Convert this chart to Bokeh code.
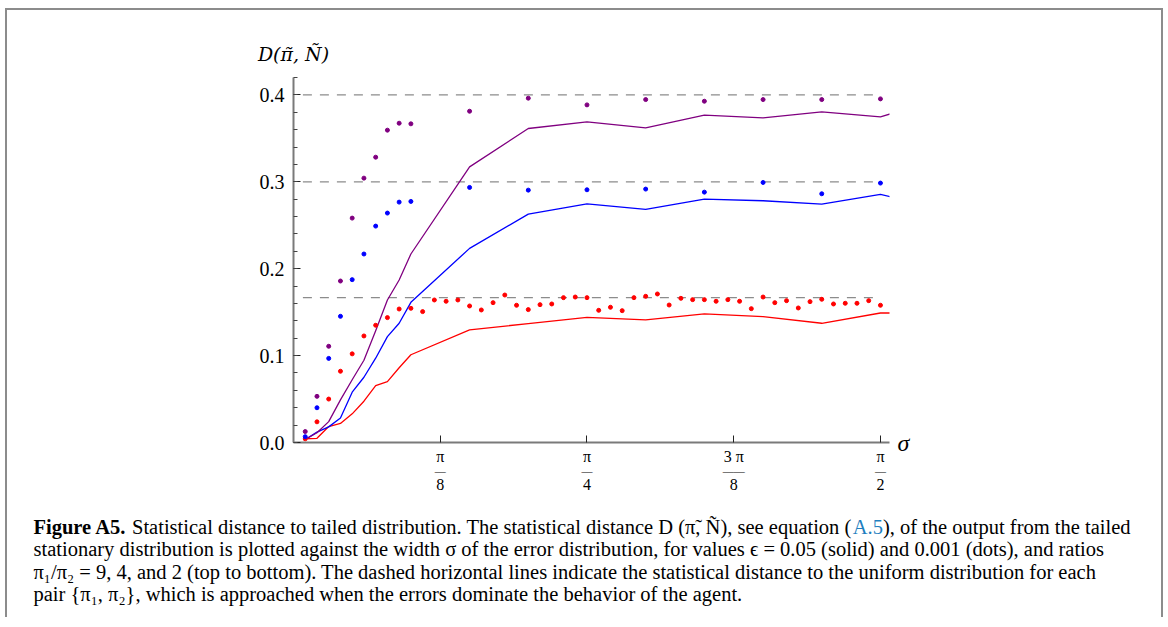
import numpy as np
from bokeh.plotting import figure
from bokeh.layouts import column
from bokeh.models import Range1d, FixedTicker, LinearAxis, PrintfTickFormatter
from bokeh.core.properties import value
from bokeh.embed import file_html
from bokeh.resources import INLINE

# ---------------- data ----------------
# sigma positions in units of pi/100
solid_k = [1, 2, 3, 4, 5, 6, 7, 8, 9, 10, 15, 20, 25, 30, 35, 40, 45, 50, 55]
dots_k = [1, 2, 3, 4, 5, 6, 7, 8, 9, 10, 15, 20, 25, 30, 35, 40, 45, 50]
red_dots_k = [1, 2, 3, 4, 5, 6, 7, 8, 9, 10, 11, 12, 13, 14, 15, 16, 17, 18, 19, 20,
              21, 22, 23, 24, 25, 26, 27, 28, 29, 30, 31, 32, 33, 34, 35, 36, 37, 38, 39, 40,
              41, 42, 43, 44, 45, 46, 47, 48, 49, 50]

# epsilon = 0.05 (solid)
purple_solid = [0.0034, 0.0112, 0.0240, 0.0490, 0.0722, 0.0946, 0.1287, 0.1640, 0.1870, 0.2169,
                0.3172, 0.3613, 0.3690, 0.3621, 0.3766, 0.3736, 0.3805, 0.3747, 0.3950]
blue_solid = [0.0034, 0.0119, 0.0180, 0.0282, 0.0579, 0.0751, 0.0970, 0.1218, 0.1372, 0.1613,
              0.2234, 0.2628, 0.2747, 0.2682, 0.2801, 0.2782, 0.2743, 0.2854, 0.2705]
red_solid = [0.0043, 0.0048, 0.0184, 0.0220, 0.0330, 0.0475, 0.0655, 0.0701, 0.0860, 0.1010,
             0.1297, 0.1368, 0.1440, 0.1410, 0.1479, 0.1448, 0.1372, 0.1490, 0.1490]

# epsilon = 0.001 (dots)
purple_dots = [0.0126, 0.0531, 0.1107, 0.1858, 0.2582, 0.3042, 0.3283, 0.3594, 0.3674, 0.3667,
               0.3812, 0.3962, 0.3885, 0.3946, 0.3927, 0.3946, 0.3946, 0.3954]
blue_dots = [0.0067, 0.0400, 0.0968, 0.1452, 0.1874, 0.2169, 0.2490, 0.2640, 0.2766, 0.2774,
             0.2935, 0.2904, 0.2908, 0.2916, 0.2881, 0.2992, 0.2862, 0.2985]
red_dots = [0.0042, 0.0238, 0.0500, 0.0820, 0.1020, 0.1226, 0.1349, 0.1437, 0.1536, 0.1544,
            0.1506, 0.1640, 0.1625, 0.1640, 0.1571, 0.1525, 0.1609, 0.1697, 0.1579, 0.1529,
            0.1586, 0.1594, 0.1667, 0.1674, 0.1667, 0.1521, 0.1556, 0.1517, 0.1667, 0.1682,
            0.1709, 0.1582, 0.1659, 0.1644, 0.1644, 0.1625, 0.1644, 0.1625, 0.1540, 0.1674,
            0.1609, 0.1632, 0.1548, 0.1621, 0.1648, 0.1594, 0.1602, 0.1602, 0.1632, 0.1579]

# distance to the uniform distribution (dashed)
uniform_levels = [0.4, 0.3, 0.1667]
uniform_k = [0.8, 50]

# x ticks in units of pi/8
xtick_pos = [1, 2, 3, 4]
xtick_num = ["π", "π", "3 π", "π"]
xtick_bar = ["—", "—", "——", "—"]
xtick_den = ["8", "4", "8", "2"]
ytick_vals = [0.0, 0.1, 0.2, 0.3, 0.4]
ytick_minor_step = 0.02

y_title = "D(π̃, Ñ)"
x_title = "σ"

cap_bold = "Figure A5."
cap_1a = "Statistical distance to tailed distribution. The statistical distance D (π̃, Ñ), see equation ("
cap_1b = "A.5"
cap_1c = "), of the output from the tailed"
caption_lines = [
    "stationary distribution is plotted against the width σ of the error distribution, for values ϵ = 0.05 (solid) and 0.001 (dots), and ratios",
    "π₁/π₂ = 9, 4, and 2 (top to bottom). The dashed horizontal lines indicate the statistical distance to the uniform distribution for each",
    "pair {π₁, π₂}, which is approached when the errors dominate the behavior of the agent.",
]

PURPLE, BLUE, RED = "#800080", "#0000ff", "#ff0000"
SERIF = "Liberation Serif"

def sx(ks):
    # sigma in units of pi/8
    return [k * 8.0 / 100.0 for k in ks]

# ---------------- plot figure ----------------
W = 1154
H1 = 495
ML, MR, MT, FH = 286, 272, 67, 365
MB = H1 - MT - FH
XMAX = 1.595 / (np.pi / 8)
YMAX = 0.42

p = figure(width=W, height=H1, output_backend="svg", toolbar_location=None, title=None,
           x_range=Range1d(0, XMAX), y_range=Range1d(0, YMAX),
           min_border_left=ML, min_border_right=MR, min_border_top=MT, min_border_bottom=MB)
p.frame_align = False
p.grid.visible = False
p.outline_line_color = None
p.background_fill_color = "white"
p.border_fill_color = "white"

for ax in (p.xaxis[0], p.yaxis[0]):
    ax.axis_line_color = "#7a7a7a"
    ax.axis_line_width = 2
    ax.major_tick_line_color = "#222222"
    ax.major_tick_in = 7
    ax.major_tick_out = 0
    ax.minor_tick_line_color = "#444444"
    ax.minor_tick_in = 4
    ax.minor_tick_out = 0

nminor = int(round(YMAX / ytick_minor_step))
p.yaxis.ticker = FixedTicker(ticks=ytick_vals, minor_ticks=[i * ytick_minor_step for i in range(nminor + 1)])
p.yaxis.formatter = PrintfTickFormatter(format="%.1f")
p.yaxis.major_label_text_font = SERIF
p.yaxis.major_label_text_font_size = "20px"
p.yaxis.major_label_text_color = "black"
p.yaxis.major_label_standoff = 9

# x axis: numerators of the pi fractions
p.xaxis.ticker = FixedTicker(ticks=xtick_pos, minor_ticks=[])
p.xaxis.major_label_overrides = {t: s for t, s in zip(xtick_pos, xtick_num)}
p.xaxis.major_label_text_font = SERIF
p.xaxis.major_label_text_font_size = "16px"
p.xaxis.major_label_text_color = "black"
p.xaxis.major_label_standoff = 5

def plain_axis(ticks, labels, size, standoff, style="normal", font=SERIF):
    return LinearAxis(ticker=FixedTicker(ticks=ticks, minor_ticks=[]),
                      major_label_overrides={t: s for t, s in zip(ticks, labels)},
                      axis_line_color=None, major_tick_line_color=None, minor_tick_line_color=None,
                      major_tick_in=0, major_tick_out=0, minor_tick_in=0, minor_tick_out=0,
                      major_label_standoff=standoff, major_label_text_font=font,
                      major_label_text_font_size=size, major_label_text_font_style=style,
                      major_label_text_color="black")

# fraction bars and denominators, stacked under the numerators
p.add_layout(plain_axis(xtick_pos, xtick_bar, "11px", -3), "below")
p.add_layout(plain_axis(xtick_pos, xtick_den, "16px", -1), "below")

# axis titles: y title centred above the y axis, sigma right of the x axis
p.add_layout(plain_axis([0.0], [y_title], "19px", 13, "italic", "DejaVu Serif"), "above")
p.add_layout(plain_axis([0.0], [x_title], "24px", 8, "italic"), "right")

# dashed uniform levels
for lvl in uniform_levels:
    p.line(sx(uniform_k), [lvl, lvl], line_color="#8c8c8c", line_dash="9 8", line_width=1.3)

# solid lines (epsilon = 0.05)
for ys, c in ((red_solid, RED), (blue_solid, BLUE), (purple_solid, PURPLE)):
    p.line(sx(solid_k), ys, line_color=c, line_width=1.3)

# dots (epsilon = 0.001)
p.scatter(sx(red_dots_k), red_dots, size=4, color=RED)
p.scatter(sx(dots_k), blue_dots, size=4, color=BLUE)
p.scatter(sx(dots_k), purple_dots, size=4, color=PURPLE)

# ---------------- caption figure ----------------
H2 = 112
TOP2 = 10 + H1
p2 = figure(width=W, height=H2, output_backend="svg", toolbar_location=None, title=None,
            x_range=Range1d(7, 7 + W), y_range=Range1d(TOP2 + H2, TOP2),
            x_axis_location=None, y_axis_location=None, min_border=0)
p2.frame_align = False
p2.grid.visible = False
p2.outline_line_color = None
p2.background_fill_color = "white"
p2.border_fill_color = "white"

REG = {' ': 250, '(': 333, ')': 333, ',': 250, '.': 250, '5': 500, 'A': 722, 'D': 722, 'S': 556, 'T': 611,
       'a': 444, 'b': 500, 'c': 444, 'd': 500, 'e': 444, 'f': 333, 'h': 500, 'i': 278, 'l': 278, 'n': 500,
       'o': 500, 'p': 500, 'q': 500, 'r': 333, 's': 389, 't': 278, 'u': 500, 'm': 778, 'π': 549,
       '\u0303': 0, 'Ñ': 722}
BOLD = {' ': 250, '.': 250, '5': 500, 'A': 722, 'F': 611, 'i': 278, 'g': 500, 'u': 556, 'r': 444, 'e': 444}

def tw(s, size, table):
    return sum(table.get(ch, 500) for ch in s) * size / 1000.0

CAP_FS = 20.5
CAP_X0 = 33
CAP_BASE = [526, 548.5, 571, 593.5]
x_pos = CAP_X0
segs = [(cap_bold, "bold", "black", BOLD, 0), (cap_1a, "normal", "black", REG, 250),
        (cap_1b, "normal", "#1f7fc0", REG, 0), (cap_1c, "normal", "black", REG, 0)]
for txt, style, col, table, pre in segs:
    x_pos += pre * CAP_FS / 1000.0
    p2.text(x=[x_pos], y=[CAP_BASE[0]], text=[txt], text_font=value(SERIF), text_font_style=value(style),
            text_font_size=value(f"{CAP_FS}px"), text_color=col, text_baseline="alphabetic")
    x_pos += tw(txt, CAP_FS, table)
p2.text(x=[CAP_X0] * len(caption_lines), y=CAP_BASE[1:], text=caption_lines, text_font=value(SERIF),
        text_font_size=value(f"{CAP_FS}px"), text_color="black", text_baseline="alphabetic")

layout = column(p, p2, spacing=0,
                styles={"margin-left": "5px", "margin-top": "8px",
                        "border-top": "2px solid #8c8c8c", "border-left": "2px solid #8c8c8c",
                        "border-right": "2px solid #8c8c8c"})

open("out.html", "w").write(file_html(layout, INLINE))
